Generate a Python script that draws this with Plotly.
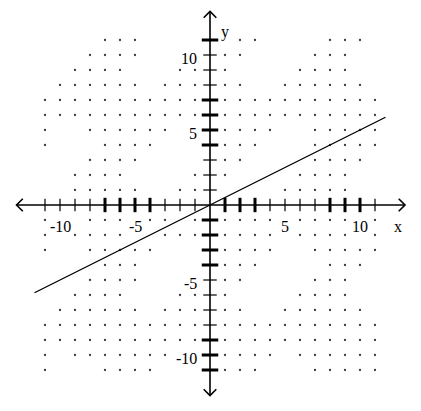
import plotly.graph_objects as go

# grid dots that are visible, per row: y -> list of x
dot_rows = {
    11: [-7, -6, -5, 2, 3, 8, 9, 10],
    10: [-8, -7, -6, -5, 1, 2, 7, 8, 9],
    9: [-9, -8, -7, -6, -2, -1, 1, 6, 7, 8, 9],
    8: [-10, -9, -8, -7, -6, -5, -3, -2, -1, 1, 2, 5, 6, 7, 8, 9, 10],
    7: list(range(-11, 0)) + list(range(1, 12)),
    6: list(range(-11, 0)) + list(range(1, 12)),
    5: [-11, -8, -7, -6, -5, -4, -3, 1, 2, 3, 4, 7, 8, 9, 10, 11],
    4: [-11, -7, -6, -5, -4, 1, 2, 3, 7, 8, 9, 10, 11],
    3: [-8, -7, -6, -5, 1, 2, 7, 8, 9, 10],
    2: [-9, -8, -7, -6, -1, 1, 6, 7, 8, 9],
    1: [-9, -8, -7, -6, -5, -2, -1, 5, 6, 7, 8, 9],
    -1: [-11, -8, -7, -6, -4, -3, -1, 1, 2, 3, 4, 6, 7, 8, 9, 11],
    -2: [-11, -9, -8, -7, -6, -3, -2, -1, 1, 2, 3, 4, 6, 7, 8, 9, 11],
    -3: [-11, -8, -7, -6, -5, -4, 1, 2, 3, 4, 7, 8, 9, 10, 11],
    -4: [-7, -6, -5, 1, 2, 3, 8, 9, 10],
    -5: [-8, -7, -6, -5, 1, 2, 7, 8, 9],
    -6: [-9, -8, -7, -6, -2, -1, 1, 6, 7, 8, 9],
    -7: [-10, -9, -8, -7, -6, -5, -3, -2, -1, 1, 2, 5, 6, 7, 8, 9, 10],
    -8: list(range(-11, 0)) + list(range(1, 12)),
    -9: list(range(-11, 0)) + list(range(1, 12)),
    -10: [-11, -9, -8, -7, -6, -5, -4, -3, 1, 2, 3, 4, 6, 7, 8, 9, 10, 11],
    -11: [-11, -7, -6, -5, -4, 1, 2, 3, 7, 8, 9, 10, 11],
}

# the graphed line y = x/2
line_x = [-11.7, 11.7]
line_y = [-5.85, 5.85]

x_ticks = [t for t in range(-11, 12) if t != 0]
y_ticks = [t for t in range(-11, 12) if t != 0]
x_thick = [-7, -6, -5, -4, 1, 2, 3, 8, 9, 10]
y_thick = [11, 7, 6, 5, 4, -1, -2, -3, -4, -9, -10, -11]

x_labels = [-10, -5, 5, 10]
y_labels = [10, 5, -5, -10]

x_min, x_max = -12.9, 13.0
y_min, y_max = -12.7, 12.9

dx, dy = [], []
for yv, xs in dot_rows.items():
    for xv in xs:
        dx.append(xv)
        dy.append(yv)

fig = go.Figure()
fig.add_trace(go.Scatter(x=dx, y=dy, mode="markers",
                         marker=dict(size=2.3, color="#3a3a3a"),
                         hoverinfo="skip"))
fig.add_trace(go.Scatter(x=line_x, y=line_y, mode="lines",
                         line=dict(color="black", width=1.3),
                         hoverinfo="skip"))

shapes = []
axis_line = dict(color="black", width=1.6)
shapes.append(dict(type="line", x0=x_min, x1=x_max, y0=0, y1=0, line=axis_line))
shapes.append(dict(type="line", x0=0, x1=0, y0=y_min, y1=y_max, line=axis_line))
a = 0.42
# arrow heads
for sx in (-1, 1):
    xe = x_max if sx > 0 else x_min
    shapes.append(dict(type="path",
                       path=f"M {xe - sx*a},{a} L {xe},0 L {xe - sx*a},{-a}",
                       line=axis_line))
for sy in (-1, 1):
    ye = y_max if sy > 0 else y_min
    shapes.append(dict(type="path",
                       path=f"M {-a},{ye - sy*a} L 0,{ye} L {a},{ye - sy*a}",
                       line=axis_line))
# ticks
for t in x_ticks:
    thick = t in x_thick
    h = 0.48 if thick else 0.42
    shapes.append(dict(type="line", x0=t, x1=t, y0=-h, y1=h,
                       line=dict(color="black", width=3 if thick else 1.2)))
for t in y_ticks:
    thick = t in y_thick
    h = 0.55 if thick else 0.45
    shapes.append(dict(type="line", x0=-h, x1=h, y0=t, y1=t,
                       line=dict(color="black", width=3 if thick else 1.2)))

font = dict(family="Liberation Serif", size=16, color="black")
ann = []
for v in x_labels:
    ann.append(dict(x=v, y=-1.45, text=str(v), showarrow=False,
                    font=font, xanchor="center", yanchor="middle"))
for v in y_labels:
    ann.append(dict(x=-0.75, y=v - 0.25, text=str(v), showarrow=False,
                    font=font, xanchor="right", yanchor="middle"))
ann.append(dict(x=0.6, y=11.55, text="y", showarrow=False, font=font,
                xanchor="left", yanchor="middle"))
ann.append(dict(x=12.55, y=-1.4, text="x", showarrow=False, font=font,
                xanchor="center", yanchor="middle"))

# page body has an 8px margin, so the figure is a bit smaller and shifted
fig.update_layout(
    width=413, height=403,
    margin=dict(l=0, r=0, t=0, b=0),
    paper_bgcolor="white", plot_bgcolor="white",
    showlegend=False,
    shapes=shapes, annotations=ann,
    xaxis=dict(range=[-13.467, 14.067], visible=False, fixedrange=True),
    yaxis=dict(range=[-13.733, 13.133], visible=False, fixedrange=True),
)

fig.write_html("out.html", config={"displayModeBar": False})
